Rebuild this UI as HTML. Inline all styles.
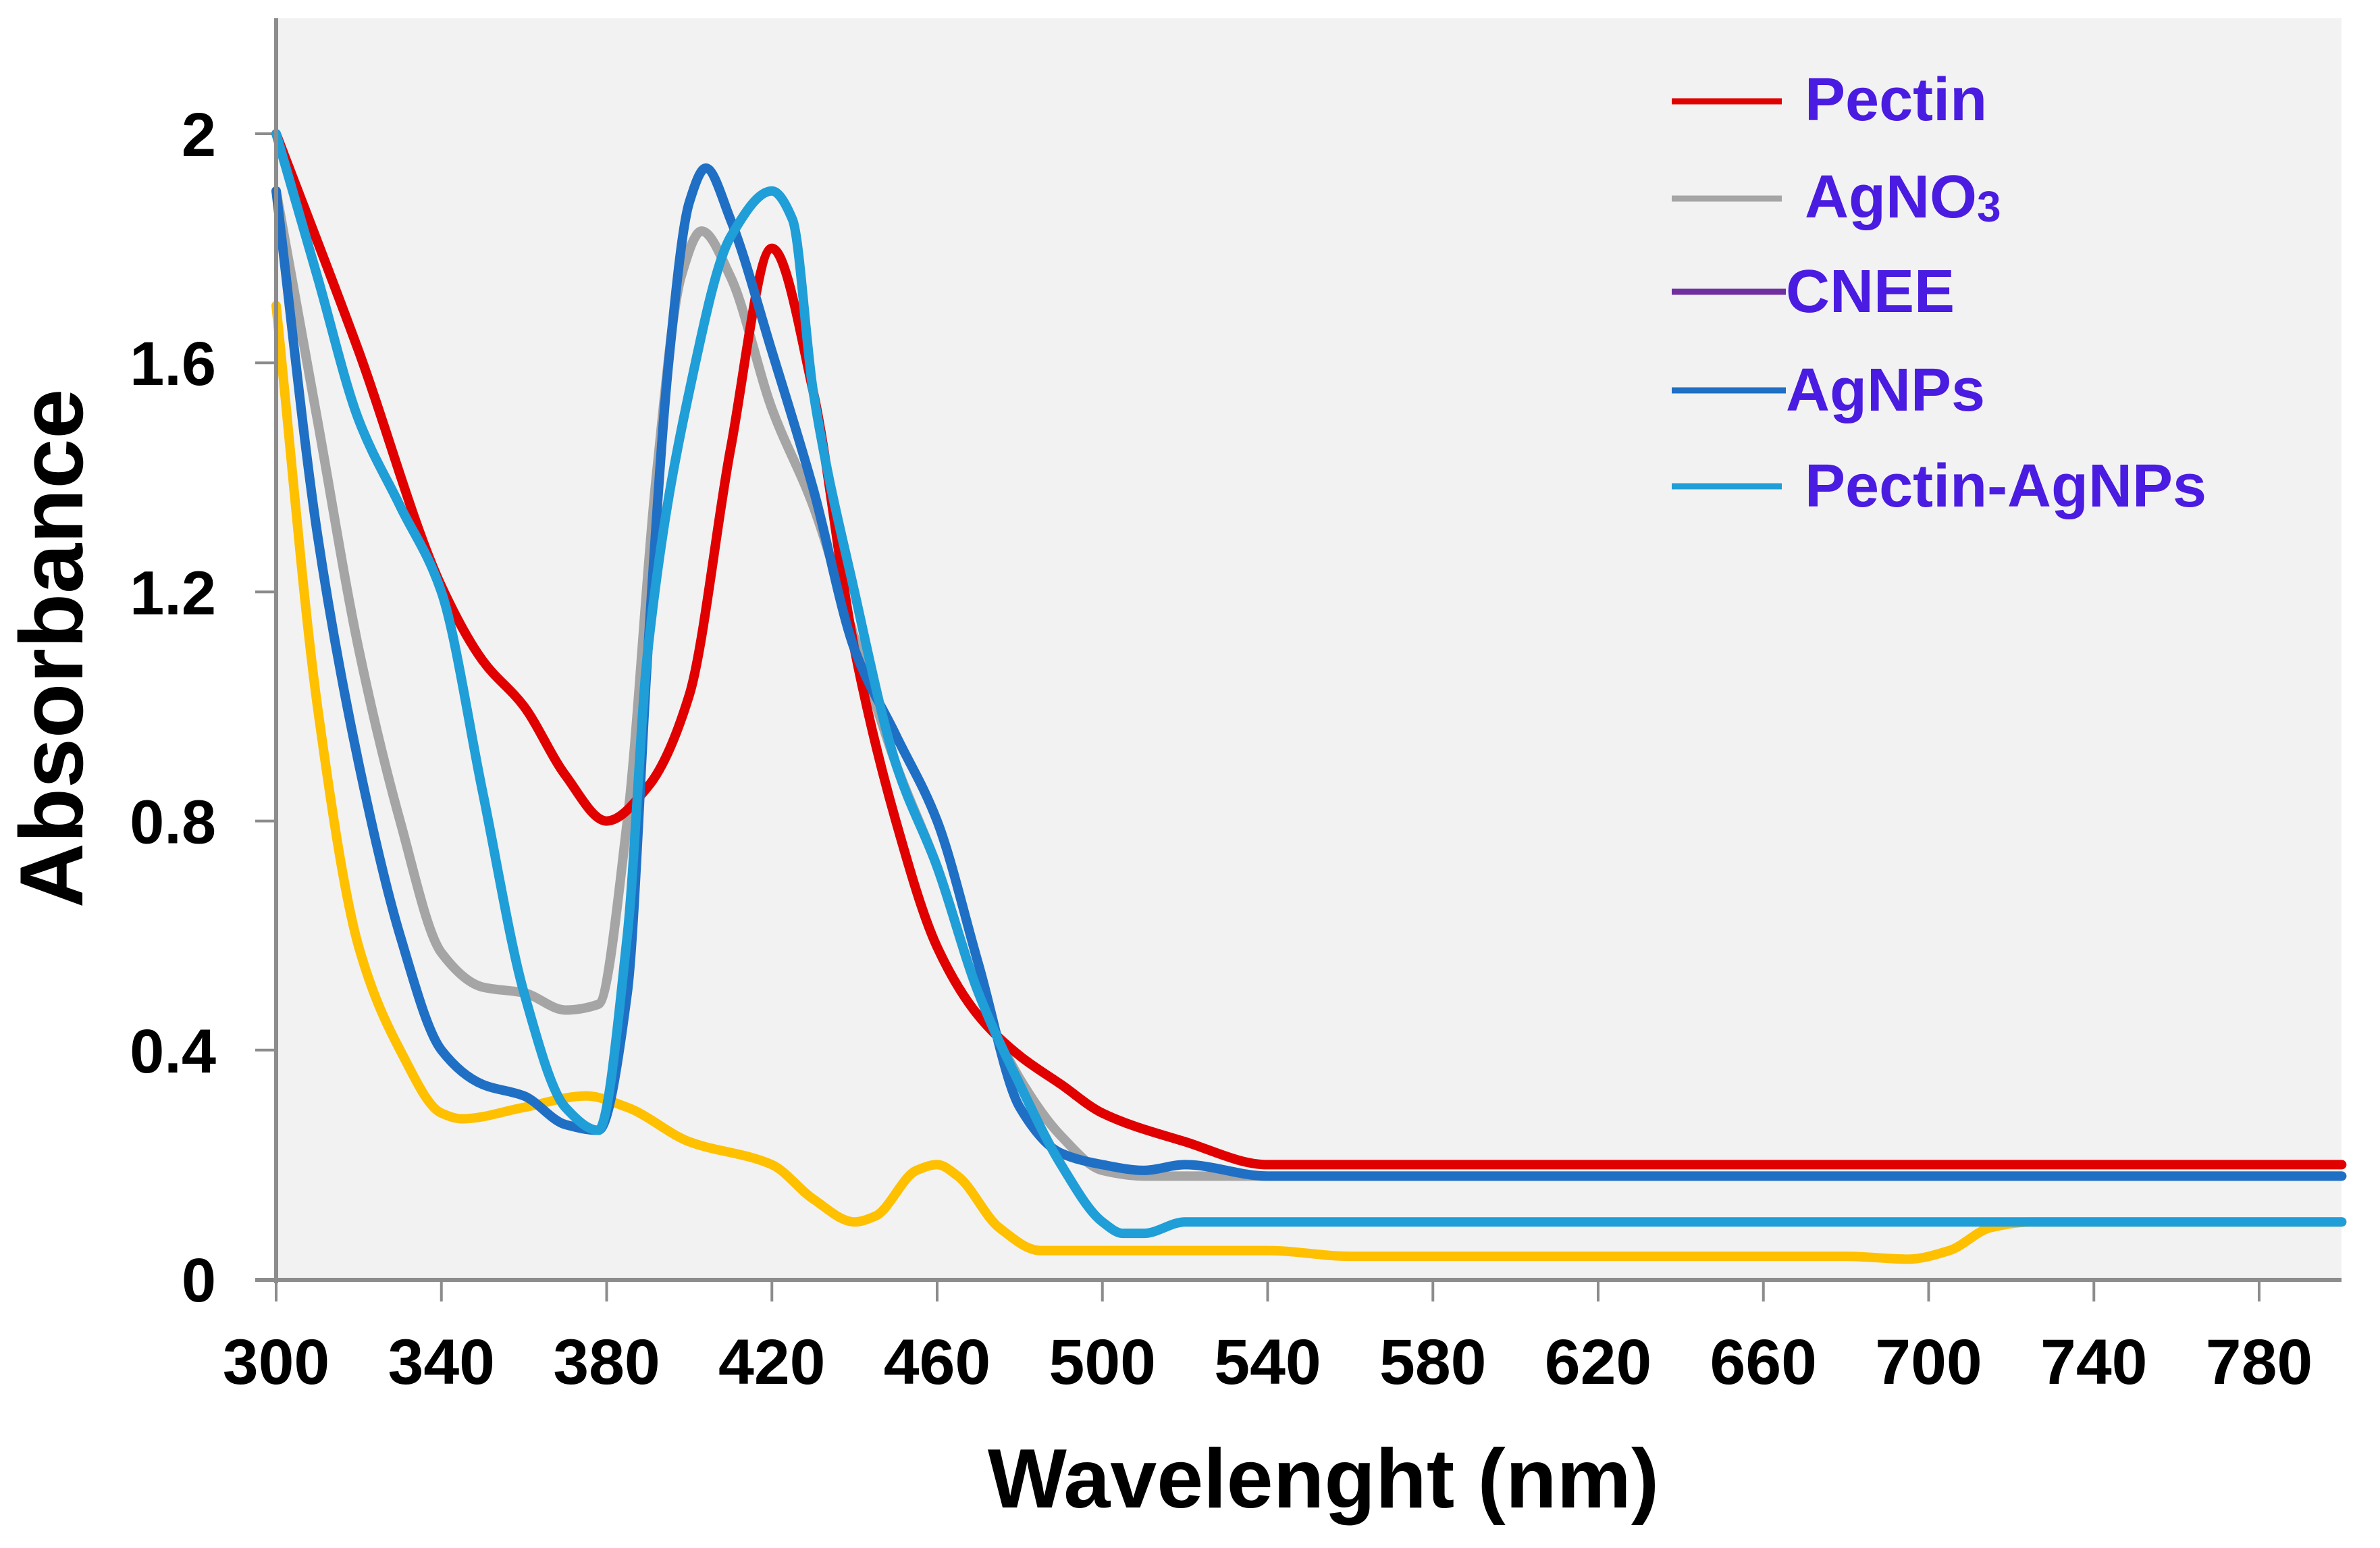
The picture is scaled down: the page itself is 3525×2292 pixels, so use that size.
<!DOCTYPE html>
<html><head><meta charset="utf-8">
<style>
html,body{margin:0;padding:0;background:#fff;}
svg{display:block;font-family:"Liberation Sans",Arial,sans-serif;}
</style></head>
<body>
<svg id="chart" width="3525" height="2292" viewBox="0 0 3525 2292" xmlns="http://www.w3.org/2000/svg">
<rect x="409" y="27" width="3059" height="1868" fill="#F2F2F2"/>
<g id="ticks"></g>
<g id="series"></g>
<line x1="409" y1="27" x2="409" y2="1900" stroke="#8C8C8C" stroke-width="6"/>
<line x1="378" y1="1895" x2="3468" y2="1895" stroke="#8C8C8C" stroke-width="6"/>
<text transform="translate(122,960) rotate(-90)" text-anchor="middle" font-size="133" font-weight="bold">Absorbance</text>
<text x="1960" y="2232" text-anchor="middle" font-size="124" font-weight="bold">Wavelenght (nm)</text>
<g font-size="90" font-weight="bold" fill="#4A1BE0">
  <line x1="2476" y1="150" x2="2639" y2="150" stroke="#E00000" stroke-width="9"/>
  <text x="2673" y="178">Pectin</text>
  <line x1="2476" y1="294" x2="2639" y2="294" stroke="#A5A5A5" stroke-width="9"/>
  <text x="2673" y="322">AgNO<tspan font-size="64" dy="6">3</tspan></text>
  <line x1="2476" y1="432" x2="2645" y2="432" stroke="#7030A0" stroke-width="9"/>
  <text x="2645" y="462">CNEE</text>
  <line x1="2476" y1="578" x2="2645" y2="578" stroke="#1F6FC5" stroke-width="9"/>
  <text x="2645" y="608">AgNPs</text>
  <line x1="2476" y1="720" x2="2639" y2="720" stroke="#1F9ED8" stroke-width="9"/>
  <text x="2673" y="750">Pectin-AgNPs</text>
</g>
</svg>
<script>
const xTicks = [300,340,380,420,460,500,540,580,620,660,700,740,780];
const yTicks = [0,0.4,0.8,1.2,1.6,2];
const yTickLabels = ["0","0.4","0.8","1.2","1.6","2"];
const seriesNames = ["yellow","agno3","pectin","agnps","pectin-agnps"];
const seriesColors = ["#FFC000","#A5A5A5","#E00000","#1F6FC5","#1F9ED8"];
const yellowX = [300,310,320,330,340,345,360,375,385,400,420,430,440,445,455,460,465,475,485,500,540,560,680,695,705,715,725,800];
const yellowY = [1.7,1.0,0.58,0.4,0.29,0.28,0.3,0.32,0.3,0.24,0.2,0.14,0.1,0.11,0.19,0.2,0.18,0.09,0.05,0.05,0.05,0.04,0.04,0.035,0.05,0.09,0.1,0.1];
const agno3X = [300,310,320,330,340,350,360,370,378,385,392,398,403,410,420,430,440,450,460,470,480,490,500,510,800];
const agno3Y = [1.9,1.5,1.1,0.8,0.57,0.51,0.5,0.47,0.48,0.8,1.4,1.75,1.83,1.75,1.52,1.35,1.12,0.9,0.72,0.5,0.35,0.25,0.19,0.18,0.18];
const pectinX = [300,320,340,350,360,370,380,390,400,410,420,430,440,450,460,470,480,490,500,520,540,560,800];
const pectinY = [2.0,1.62,1.21,1.08,1.0,0.88,0.8,0.86,1.02,1.45,1.8,1.55,1.1,0.8,0.58,0.46,0.39,0.34,0.29,0.24,0.2,0.2,0.2];
const agnpsX = [300,310,320,330,340,350,360,370,378,385,390,395,400,404,410,420,430,440,450,460,470,480,490,500,510,520,540,800];
const agnpsY = [1.9,1.3,0.9,0.6,0.4,0.34,0.32,0.27,0.26,0.5,1.1,1.6,1.88,1.94,1.85,1.62,1.38,1.1,0.95,0.8,0.55,0.3,0.22,0.2,0.19,0.2,0.18,0.18];
const pagX = [300,310,320,330,340,350,360,370,378,385,390,400,410,420,425,430,440,450,460,470,480,490,500,505,510,520,800];
const pagY = [2.0,1.75,1.5,1.35,1.2,0.85,0.5,0.3,0.26,0.6,1.1,1.55,1.82,1.9,1.85,1.55,1.2,0.9,0.72,0.5,0.34,0.2,0.1,0.08,0.08,0.1,0.1];

const NS = "http://www.w3.org/2000/svg";
function xScale(v){ return 409 + (v-300)*(3346-409)/480; }
function yScale(v){ return 1894 - v*(1894-198)/2; }

const tg = document.getElementById('ticks');
xTicks.forEach(t=>{
  const l=document.createElementNS(NS,'line');
  
  
  l.setAttribute('x1',xScale(t)); l.setAttribute('x2',xScale(t));
  l.setAttribute('y1',1895); l.setAttribute('y2',1927);
  l.setAttribute('stroke','#8C8C8C'); l.setAttribute('stroke-width','4');
  tg.appendChild(l);
  const tx=document.createElementNS(NS,'text');
  
  
  tx.setAttribute('x',xScale(t)); tx.setAttribute('y',2049);
  tx.setAttribute('text-anchor','middle'); tx.setAttribute('font-size','95'); tx.setAttribute('font-weight','bold');
  tx.textContent=t; tg.appendChild(tx);
});
yTicks.forEach((t,i)=>{
  const l=document.createElementNS(NS,'line');
  
  
  l.setAttribute('x1',378); l.setAttribute('x2',409);
  l.setAttribute('y1',yScale(t)); l.setAttribute('y2',yScale(t));
  l.setAttribute('stroke','#8C8C8C'); l.setAttribute('stroke-width','4');
  tg.appendChild(l);
  const tx=document.createElementNS(NS,'text');
  
  
  tx.setAttribute('x',320); tx.setAttribute('y',yScale(t)+33);
  tx.setAttribute('text-anchor','end'); tx.setAttribute('font-size','92'); tx.setAttribute('font-weight','bold');
  tx.textContent=yTickLabels[i]; tg.appendChild(tx);
});

function pathFor(xs,ys){
  const n=xs.length;
  const px=xs.map(xScale), py=ys.map(yScale);
  const d=[], m=new Array(n);
  for(let i=0;i<n-1;i++) d.push((py[i+1]-py[i])/(px[i+1]-px[i]));
  m[0]=d[0]; m[n-1]=d[n-2];
  for(let i=1;i<n-1;i++){
    if(d[i-1]*d[i]<=0) m[i]=0;
    else { const h0=px[i]-px[i-1], h1=px[i+1]-px[i];
      const w1=2*h1+h0, w2=h1+2*h0;
      m[i]=(w1+w2)/(w1/d[i-1]+w2/d[i]); }
  }
  let s='M'+px[0]+','+py[0];
  for(let i=0;i<n-1;i++){
    const h=(px[i+1]-px[i])/3;
    s+=' C'+(px[i]+h)+','+(py[i]+m[i]*h)+' '+(px[i+1]-h)+','+(py[i+1]-m[i+1]*h)+' '+px[i+1]+','+py[i+1];
  }
  return s;
}
const sg=document.getElementById('series');
const allX=[yellowX,agno3X,pectinX,agnpsX,pagX];
const allY=[yellowY,agno3Y,pectinY,agnpsY,pagY];
allX.forEach((xs,i)=>{
  const path=document.createElementNS(NS,'path');
  
  
  path.setAttribute('d',pathFor(xs,allY[i]));
  path.setAttribute('fill','none');
  path.setAttribute('stroke',seriesColors[i]);
  path.setAttribute('stroke-width','14');
  path.setAttribute('stroke-linejoin','round');
  path.setAttribute('stroke-linecap','round');
  sg.appendChild(path);
});
</script>
</body></html>
